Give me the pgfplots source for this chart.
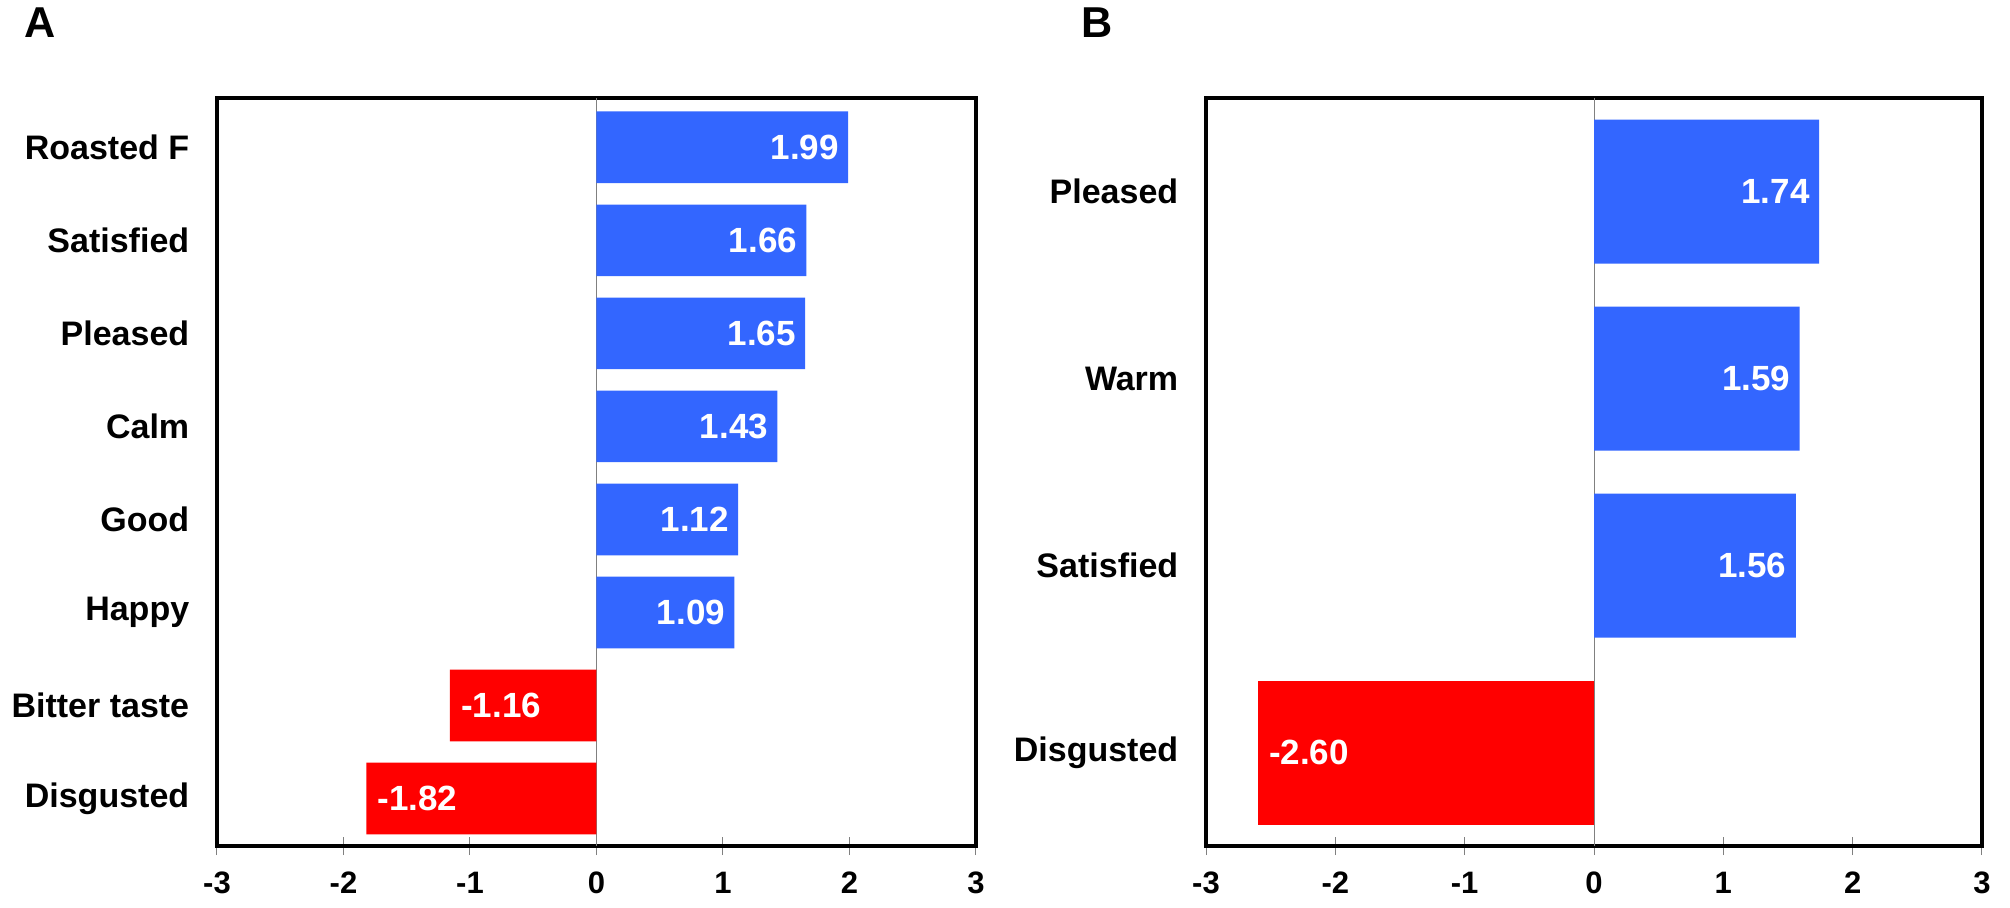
\documentclass[border=0pt]{standalone}
\usepackage{fontspec}
\setmainfont{Liberation Sans}
\usepackage{pgfplots}
\pgfplotsset{compat=1.18}
\definecolor{barblue}{HTML}{3366FF}
\definecolor{barred}{HTML}{FF0000}
\pgfplotsset{
  panel/.style={
    scale only axis, height=374pt,
    xbar, bar shift=0pt, bar width=0.77,
    xmin=-3, xmax=3, xtick={-3,...,3}, xticklabels={-3,-2,-1,0,1,2,3},
    xtick pos=bottom, tick align=center, major tick length=9pt,
    xtick style={gray, line width=0.5pt},
    ytick style={draw=none},
    axis line style={black, line width=2pt},
    xticklabel style={font=\fontsize{15.5}{17}\selectfont\bfseries, inner sep=0pt, anchor=north, yshift=-8.2pt},
    yticklabel style={font=\fontsize{17}{19}\selectfont\bfseries, inner sep=0pt, anchor=east, xshift=-9.2pt},
    nodes near coords, point meta=explicit symbolic,
    every node near coord/.append style={text=white, font=\fontsize{17.5}{19}\selectfont\bfseries, inner sep=0pt},
  },
  pos/.style={fill=barblue, draw=none, every node near coord/.append style={anchor=east, xshift=-4.5pt}},
  neg/.style={fill=barred, draw=none, every node near coord/.append style={anchor=west, xshift=5.5pt}},
}
\begin{document}
\begin{tikzpicture}
\useasboundingbox (0,0) rectangle (1005pt,-453.5pt);
\node[font=\fontsize{21.6}{24}\selectfont\bfseries, inner sep=0pt] at (20pt,-11.25pt) {A};
\node[font=\fontsize{21.6}{24}\selectfont\bfseries, inner sep=0pt] at (548.75pt,-11.25pt) {B};

% panel A
\begin{axis}[panel, at={(108.5pt,-423pt)}, anchor=south west, width=379.5pt,
  ymin=0.49, ymax=8.53, ytick={1,...,8},
  yticklabels={Disgusted,Bitter taste,Happy,Good,Calm,Pleased,Satisfied,Roasted F}]
\draw[gray, line width=0.5pt] (axis cs:0,0.49) -- (axis cs:0,8.53);
\addplot[pos] coordinates {
  (1.99,8) [1.99]
  (1.66,7) [1.66]
  (1.65,6) [1.65]
  (1.43,5) [1.43]
  (1.12,4) [1.12]
  (1.09,3) [1.09]
};
\addplot[neg] coordinates {
  (-1.16,2) [-1.16]
  (-1.82,1) [-1.82]
};
\end{axis}

% panel B
\begin{axis}[panel, at={(603pt,-423pt)}, anchor=south west, width=388pt,
  ymin=0.5, ymax=4.5, ytick={1,...,4},
  yticklabels={Disgusted,Satisfied,Warm,Pleased}]
\draw[gray, line width=0.5pt] (axis cs:0,0.5) -- (axis cs:0,4.5);
\addplot[pos] coordinates {
  (1.74,4) [1.74]
  (1.59,3) [1.59]
  (1.56,2) [1.56]
};
\addplot[neg] coordinates {
  (-2.60,1) [-2.60]
};
\end{axis}
\end{tikzpicture}
\end{document}
